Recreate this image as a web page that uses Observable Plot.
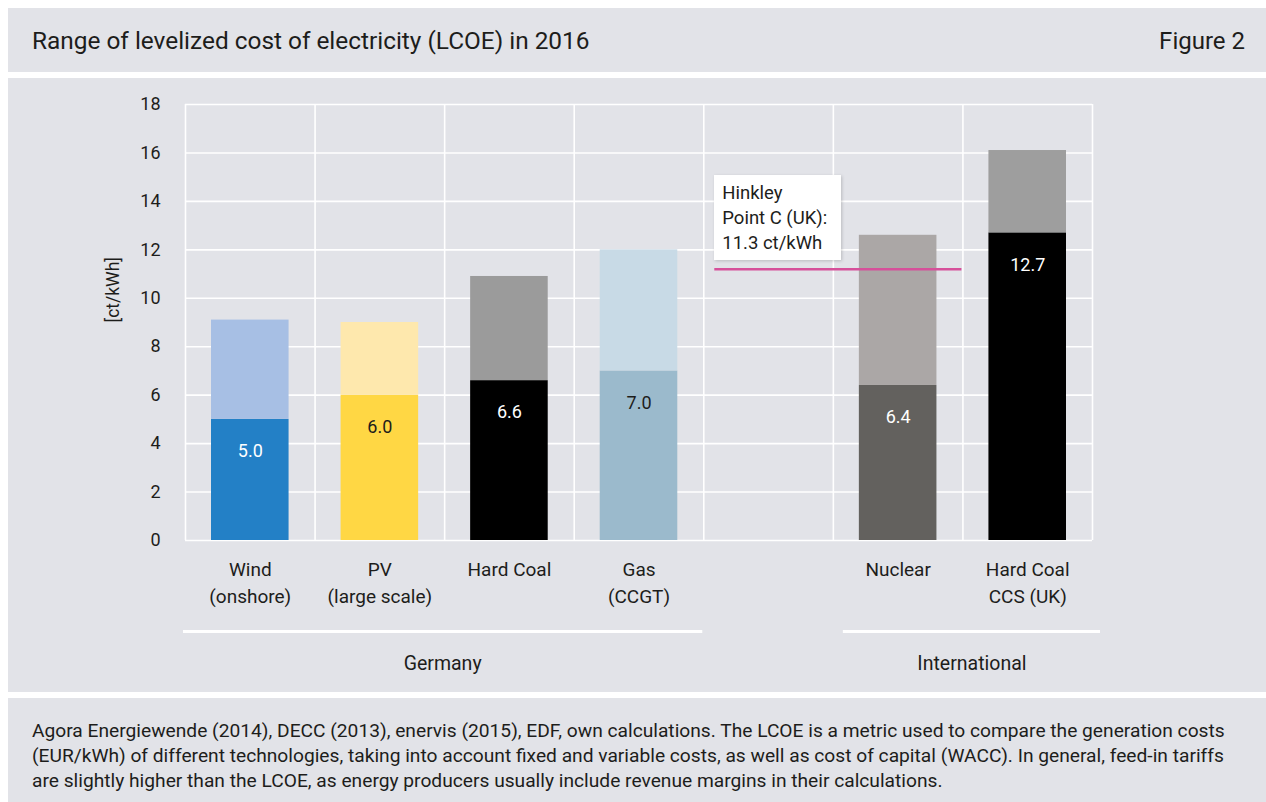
<!DOCTYPE html>
<html>
<head>
<meta charset="utf-8">
<script src="https://cdn.jsdelivr.net/npm/d3@7"></script>
<script src="https://cdn.jsdelivr.net/npm/@observablehq/plot@0.6"></script>
<style>
  html, body { margin: 0; padding: 0; background: #ffffff; width: 1266px; height: 802px; overflow: hidden; }
  body { position: relative; font-family: Roboto, "Noto Sans", sans-serif; color: #1d1d1b; }
  .panel { position: absolute; left: 8px; width: 1258px; background: #e2e3e8; }
  #titlebar { top: 8px; height: 64px; }
  #titlebar .t { position: absolute; left: 24px; top: 1px; line-height: 64px; font-size: 24.4px; }
  #titlebar .f { position: absolute; right: 21px; top: 1px; line-height: 64px; font-size: 24px; }
  #chartpanel { top: 78px; height: 614px; }
  #caption { top: 698px; height: 104px; }
  #caption p { margin: 0; position: absolute; left: 24px; top: 20px; font-size: 19.2px; line-height: 25px; white-space: nowrap; }
  #hinkley { position: absolute; background: #ffffff; box-shadow: 1px 1px 3px rgba(0,0,0,0.18); font-size: 18.5px; line-height: 25px; padding: 6px 0 0 8px; box-sizing: border-box; white-space: nowrap; }
</style>
</head>
<body>
<div class="panel" id="titlebar"><span class="t">Range of levelized cost of electricity (LCOE) in 2016</span><span class="f">Figure 2</span></div>
<div class="panel" id="chartpanel"></div>
<div class="panel" id="caption"><p>Agora Energiewende (2014), DECC (2013), enervis (2015), EDF, own calculations. The LCOE is a metric used to compare the generation costs<br>(EUR/kWh) of different technologies, taking into account fixed and variable costs, as well as cost of capital (WACC). In general, feed-in tariffs<br>are slightly higher than the LCOE, as energy producers usually include revenue margins in their calculations.</p></div>
<script>
// ---- data ----
const categories = ["Wind\n(onshore)", "PV\n(large scale)", "Hard Coal", "Gas\n(CCGT)", "", "Nuclear", "Hard Coal\nCCS (UK)"];
const lowValues  = [5.0, 6.0, 6.6, 7.0, null, 6.4, 12.7];
const highValues = [9.1, 9.0, 10.9, 12.0, null, 12.6, 16.1];
const lowColors  = ["#2380c6", "#ffd744", "#000000", "#9bbacc", null, "#63615e", "#000000"];
const highColors = ["#a7bfe4", "#fee8ad", "#9b9b9b", "#c8dae6", null, "#aba7a6", "#9e9e9e"];
const labelColors = ["#ffffff", "#1d1d1b", "#ffffff", "#1d1d1b", null, "#ffffff", "#ffffff"];
const yTicks = [0, 2, 4, 6, 8, 10, 12, 14, 16, 18];
const groups = ["Germany", "International"];
const groupStart = [0, 5];
const groupEnd = [4, 7];
const hinkleyValue = 11.2;
const hinkleyLabel = ["Hinkley", "Point C (UK):", "11.3 ct/kWh"];
const yLabel = "[ct/kWh]";

// ---- derived table ----
const rows = categories.map((name, i) => ({
  i, name, low: lowValues[i], high: highValues[i],
  lowColor: lowColors[i], highColor: highColors[i], labelColor: labelColors[i]
}));
const bars = rows.filter(d => d.low != null);
const gapIndex = categories.indexOf("");
const nuclearIndex = categories.indexOf("Nuclear");
const groupRows = groups.map((g, k) => ({name: g, x1: groupStart[k], x2: groupEnd[k]}));
const germany = groupRows.slice(0, 1);
const international = groupRows.slice(1, 2);

const inset = 26;
const chart = Plot.plot({
  width: 1258,
  height: 614,
  marginLeft: 177,
  marginRight: 174,
  marginTop: 26,
  marginBottom: 152,
  style: {background: "transparent", fontFamily: "Roboto, 'Noto Sans', sans-serif", fontSize: "18px", color: "#1d1d1b", overflow: "visible"},
  x: {domain: [0, categories.length], axis: null},
  y: {domain: [0, 18], axis: null},
  marks: [
    Plot.ruleY(yTicks, {stroke: "#ffffff", strokeWidth: 1.6}),
    Plot.ruleX(d3.range(0, categories.length + 1), {stroke: "#ffffff", strokeWidth: 1.6}),
    Plot.rectY(bars, {x1: "i", x2: d => d.i + 1, y1: 0, y2: "low", fill: "lowColor", insetLeft: inset, insetRight: inset}),
    Plot.rectY(bars, {x1: "i", x2: d => d.i + 1, y1: "low", y2: "high", fill: "highColor", insetLeft: inset, insetRight: inset}),
    Plot.text(bars, {x: d => d.i + 0.5, y: "low", text: d => d.low.toFixed(1), fill: "labelColor", dy: 32, fontSize: 18}),
    Plot.ruleY([hinkleyValue], {x1: gapIndex, x2: nuclearIndex + 1, stroke: "#d6509a", strokeWidth: 2.5, insetLeft: 11, insetRight: 1}),
    Plot.axisY(yTicks, {tickSize: 0, tickPadding: 25, fontSize: 18, label: null}),
    Plot.text([yLabel], {frameAnchor: "left", dx: -72, rotate: -90, fontSize: 17.5, text: d => d}),
    Plot.text(bars, {x: d => d.i + 0.5, y: 0, text: "name", dy: 16, lineAnchor: "top", lineHeight: 1.42, fontSize: 19}),
    Plot.ruleY(germany, {y: 0, x1: "x1", x2: "x2", dy: 91, stroke: "#ffffff", strokeWidth: 3, insetLeft: -2, insetRight: 1}),
    Plot.text(germany, {x: d => (d.x1 + d.x2) / 2, y: 0, text: "name", dy: 123, fontSize: 19.5, dx: -2}),
    Plot.ruleY(international, {y: 0, x1: "x1", x2: "x2", dy: 91, stroke: "#ffffff", strokeWidth: 3, insetLeft: 10, insetRight: -8}),
    Plot.text(international, {x: d => (d.x1 + d.x2) / 2, y: 0, text: "name", dy: 123, fontSize: 19.5, dx: 9})
  ]
});
const panel = document.getElementById("chartpanel");
panel.appendChild(chart);

// Hinkley annotation box, placed through the chart's scales
const xs = chart.scale("x"), ys = chart.scale("y");
const box = document.createElement("div");
box.id = "hinkley";
box.innerHTML = hinkleyLabel.join("<br>");
const left = xs.apply(gapIndex) + 11;
const bottom = ys.apply(hinkleyValue) - 9;
box.style.left = left + "px";
box.style.top = (bottom - 85) + "px";
box.style.width = "127px";
box.style.height = "85px";
panel.appendChild(box);
</script>
</body>
</html>
